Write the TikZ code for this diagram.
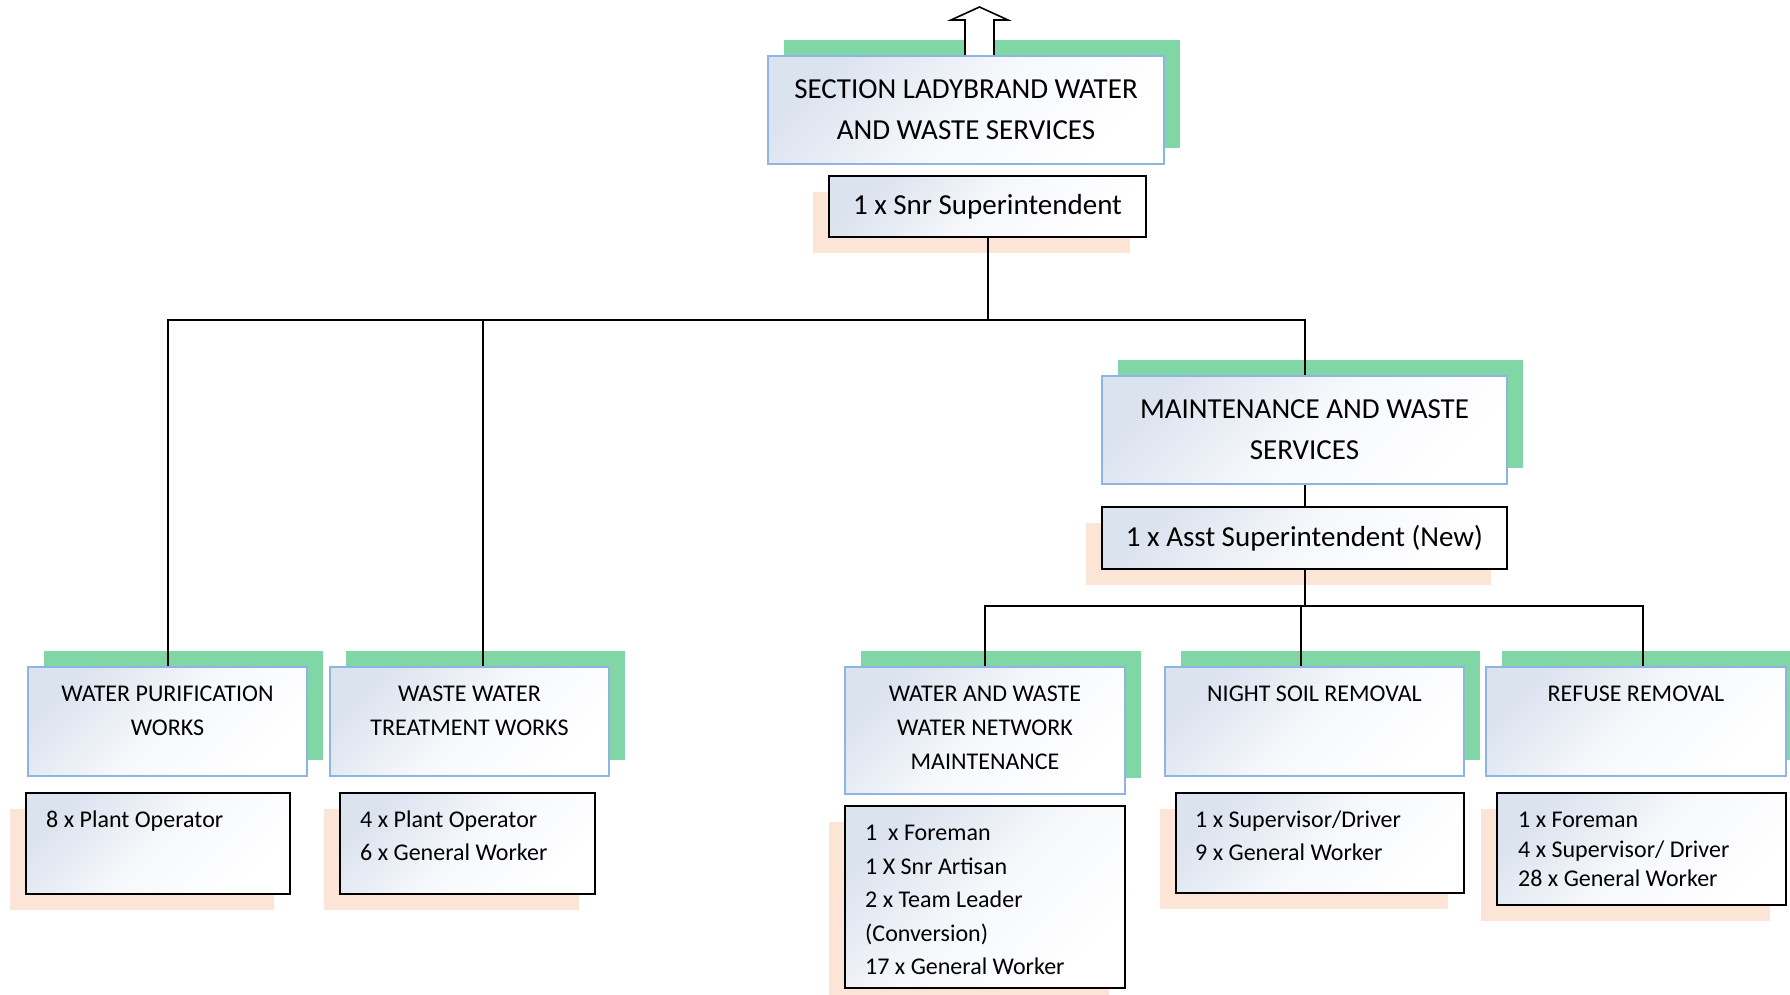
\documentclass[tikz,border=0pt]{standalone}
\usepackage{fontspec}
\setmainfont{Carlito}
\usetikzlibrary{positioning, shadows}

\definecolor{shadowgreen}{RGB}{128,214,165}
\definecolor{shadowpeach}{RGB}{252,228,214}
\definecolor{unitedge}{RGB}{142,180,227}
\definecolor{boxtint}{RGB}{219,227,239}

\tikzset{
  unit/.style={draw=unitedge, line width=1pt, inner sep=0pt,
    top color=boxtint, bottom color=white, middle color=white!75!boxtint, shading angle=45,
    general shadow={draw=none, fill=shadowgreen, shadow xshift=8pt, shadow yshift=8pt}},
  staff/.style={draw=black, line width=1.2pt, inner sep=0pt,
    top color=boxtint, bottom color=white, middle color=white!75!boxtint, shading angle=45,
    general shadow={draw=none, fill=shadowpeach, shadow xshift=-8pt, shadow yshift=-8pt}},
  big/.style={font=\fontsize{14.5}{20.5}\selectfont, align=center},
  unittext/.style={font=\fontsize{12}{17}\selectfont, align=center, inner sep=0pt},
  stafftext/.style={font=\fontsize{12}{16.5}\selectfont, align=left, inner sep=0pt},
  link/.style={line width=1pt},
  outline/.style={line width=0.8pt, fill=white}
}

\begin{document}
\begin{tikzpicture}[x=0.5pt, y=-0.5pt]
\useasboundingbox (0,0) rectangle (1790,995);
% section head
\node[unit, big, minimum width=198pt, minimum height=54pt] (sect) at (966,110) {SECTION LADYBRAND WATER\\AND WASTE SERVICES};
\node[staff, big, minimum width=158.5pt, minimum height=30.5pt] (snr) at (987.5,206.5) {1 x Snr Superintendent};
\draw[outline] (965,55) -- (965,20) -- (951,20) -- (979.5,7) -- (1008,20) -- (994,20) -- (994,55);

% maintenance branch
\node[unit, big, minimum width=202.5pt, minimum height=54pt] (maint) at (1304.5,430) {MAINTENANCE AND WASTE\\SERVICES};
\node[staff, big, minimum width=202.5pt, minimum height=31pt] (asst) at (1304.5,538) {1 x Asst Superintendent (New)};

% units
\node[unit, minimum width=139.5pt, minimum height=54.5pt] (wpw) at (167.5,721.5) {};
\node[staff, minimum width=132pt, minimum height=50.5pt] (wpwstaff) at (158,843.5) {};
\node[unit, minimum width=139.5pt, minimum height=54.5pt] (wwtw) at (469.5,721.5) {};
\node[staff, minimum width=127.5pt, minimum height=50.5pt] (wwtwstaff) at (467.5,843.5) {};
\node[unit, minimum width=140pt, minimum height=63.5pt] (wwnm) at (985,730.5) {};
\node[staff, minimum width=140pt, minimum height=91pt] (wwnmstaff) at (985,897) {};
\node[unit, minimum width=149.5pt, minimum height=54.5pt] (nsr) at (1314.5,721.5) {};
\node[staff, minimum width=144pt, minimum height=50pt] (nsrstaff) at (1320,843) {};
\node[unit, minimum width=150pt, minimum height=54.5pt] (rr) at (1636,721.5) {};
\node[staff, minimum width=144.5pt, minimum height=56pt] (rrstaff) at (1641.5,849) {};

% unit names
\node[unittext, below=10pt of wpw.north] (wpwname) {WATER PURIFICATION\\WORKS};
\node[unittext, below=10pt of wwtw.north] (wwtwname) {WASTE WATER\\TREATMENT WORKS};
\node[unittext, below=10pt of wwnm.north] (wwnmname) {WATER AND WASTE\\WATER NETWORK\\MAINTENANCE};
\node[unittext, below=10pt of nsr.north] (nsrname) {NIGHT SOIL REMOVAL};
\node[unittext, below=10pt of rr.north] (rrname) {REFUSE REMOVAL};

% staff lists
\node[stafftext, below right=9.5pt and 10.5pt of wpwstaff.north west] (wpwlist) {8 x Plant Operator};
\node[stafftext, below right=9.5pt and 10.5pt of wwtwstaff.north west] (wwtwlist) {4 x Plant Operator\\6 x General Worker};
\node[stafftext, font=\fontsize{12}{16.75}\selectfont, below right=10pt and 10.5pt of wwnmstaff.north west] (wwnmlist) {1\ \ x Foreman\\1 X Snr Artisan\\2 x Team Leader\\(Conversion)\\17 x General Worker};
\node[stafftext, below right=9.5pt and 10pt of nsrstaff.north west] (nsrlist) {1 x Supervisor/Driver\\9 x General Worker};
\node[stafftext, font=\fontsize{12}{14.75}\selectfont, below right=10pt and 11pt of rrstaff.north west] (rrlist) {1 x Foreman\\4 x Supervisor/ Driver\\28 x General Worker};

% connectors
\coordinate (bar) at (0,320);
\coordinate (subbar) at (0,606);
\draw[link] (snr.south) -- (snr.south |- bar);
\draw[link] (wpw.north) -- (wpw.north |- bar) -- (maint.north |- bar) -- (maint.north);
\draw[link] ([xshift=6.75pt]wwtw.north) -- ([xshift=6.75pt]wwtw.north |- bar);
\draw[link] (maint.south) -- (asst.north);
\draw[link] (asst.south) -- (asst.south |- subbar);
\draw[link] (wwnm.north) -- (wwnm.north |- subbar) -- ([xshift=3.5pt]rr.north |- subbar) -- ([xshift=3.5pt]rr.north);
\draw[link] ([xshift=-6.75pt]nsr.north) -- ([xshift=-6.75pt]nsr.north |- subbar);
\end{tikzpicture}
\end{document}
